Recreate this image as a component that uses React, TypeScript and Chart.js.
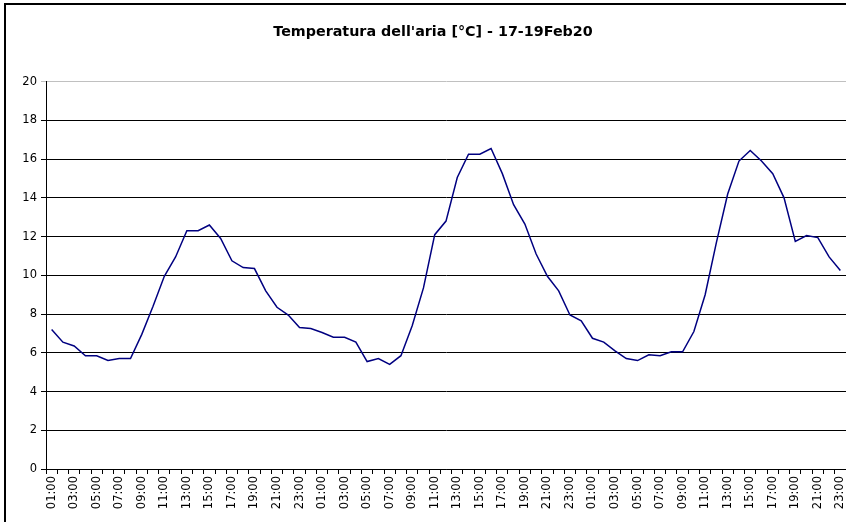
import React, { useEffect, useRef } from 'react';
import { Chart, registerables } from 'chart.js';

Chart.register(...registerables);

const chartTitle = "Temperatura dell'aria [°C] - 17-19Feb20";

const categories = [
  '01:00', '02:00', '03:00', '04:00', '05:00', '06:00', '07:00', '08:00', '09:00', '10:00', '11:00', '12:00',
  '13:00', '14:00', '15:00', '16:00', '17:00', '18:00', '19:00', '20:00', '21:00', '22:00', '23:00',
  '00:00', '01:00', '02:00', '03:00', '04:00', '05:00', '06:00', '07:00', '08:00', '09:00', '10:00', '11:00', '12:00',
  '13:00', '14:00', '15:00', '16:00', '17:00', '18:00', '19:00', '20:00', '21:00', '22:00', '23:00',
  '00:00', '01:00', '02:00', '03:00', '04:00', '05:00', '06:00', '07:00', '08:00', '09:00', '10:00', '11:00', '12:00',
  '13:00', '14:00', '15:00', '16:00', '17:00', '18:00', '19:00', '20:00', '21:00', '22:00', '23:00',
];

const day1 = [
  7.2, 6.55, 6.35, 5.85, 5.85, 5.6, 5.7, 5.7, 6.95, 8.4, 9.95, 10.95,
  12.3, 12.3, 12.6, 11.9, 10.75, 10.4, 10.35, 9.2, 8.35, 7.95, 7.3,
];
const day2 = [
  7.25, 7.05, 6.8, 6.8, 6.55, 5.55, 5.7, 5.4, 5.85, 7.4, 9.35, 12.1, 12.8,
  15.05, 16.25, 16.25, 16.55, 15.25, 13.65, 12.65, 11.1, 9.95, 9.2, 7.95,
];
const day3 = [
  7.65, 6.75, 6.55, 6.1, 5.7, 5.6, 5.9, 5.85, 6.05, 6.05, 7.1, 9.0, 11.7,
  14.2, 15.9, 16.45, 15.9, 15.25, 14.0, 11.75, 12.05, 11.95, 10.95, 10.25,
];
const temperature = [...day1, ...day2, ...day3];

const yMin = 0;
const yMax = 20;
const yStep = 2;

const FONT = 'DejaVu Sans';

export default function App() {
  const canvasRef = useRef<HTMLCanvasElement | null>(null);

  useEffect(() => {
    const canvas = canvasRef.current;
    if (!canvas) return;
    const chart = new Chart(canvas, {
      type: 'line',
      data: {
        labels: categories,
        datasets: [
          {
            data: temperature,
            borderColor: '#000080',
            borderWidth: 1.5,
            pointRadius: 0,
            tension: 0,
            fill: false,
          },
        ],
      },
      options: {
        responsive: false,
        animation: false,
        events: [],
        layout: { padding: { left: 20, right: 20, top: 0, bottom: 0 } },
        plugins: {
          legend: { display: false },
          tooltip: { enabled: false },
          title: {
            display: true,
            text: chartTitle,
            color: '#000',
            font: { family: FONT, size: 14.3, weight: 'bold' },
            padding: { top: 24, bottom: 40.5 },
          },
        },
        scales: {
          x: {
            type: 'category',
            offset: true,
            grid: {
              offset: true,
              drawOnChartArea: false,
              drawTicks: true,
              tickLength: 5,
              color: '#000',
            },
            border: { display: true, color: '#000' },
            ticks: {
              autoSkip: false,
              maxRotation: 90,
              minRotation: 90,
              padding: 2,
              color: '#000',
              font: { family: FONT, size: 11.5 },
              callback: (_v: any, i: number) => (i % 2 === 0 ? categories[i] : ''),
            },
            afterFit: (scale: any) => {
              scale.height = 53;
            },
          },
          y: {
            min: yMin,
            max: yMax,
            grid: {
              color: (ctx: any) => (ctx.tick && ctx.tick.value === yMax ? '#c0c0c0' : '#000'),
              drawTicks: true,
              tickLength: 5,
            },
            border: { display: true, color: '#000' },
            ticks: {
              stepSize: yStep,
              padding: 4,
              color: '#000',
              font: { family: FONT, size: 11.5 },
            },
            afterFit: (scale: any) => {
              scale.width = 26;
            },
          },
        },
      },
    });
    return () => chart.destroy();
  }, []);

  return (
    <div
      style={{
        position: 'fixed',
        left: 0,
        top: 0,
        width: 846,
        height: 522,
        overflow: 'hidden',
        background: '#fff',
      }}
    >
      <div
        style={{
          position: 'absolute',
          left: 4,
          top: 3,
          width: 900,
          height: 600,
          border: '2px solid #000',
          boxSizing: 'border-box',
        }}
      />
      <canvas
        ref={canvasRef}
        width={866}
        height={522}
        style={{ position: 'absolute', left: 0, top: 0, width: 866, height: 522 }}
      />
    </div>
  );
}
